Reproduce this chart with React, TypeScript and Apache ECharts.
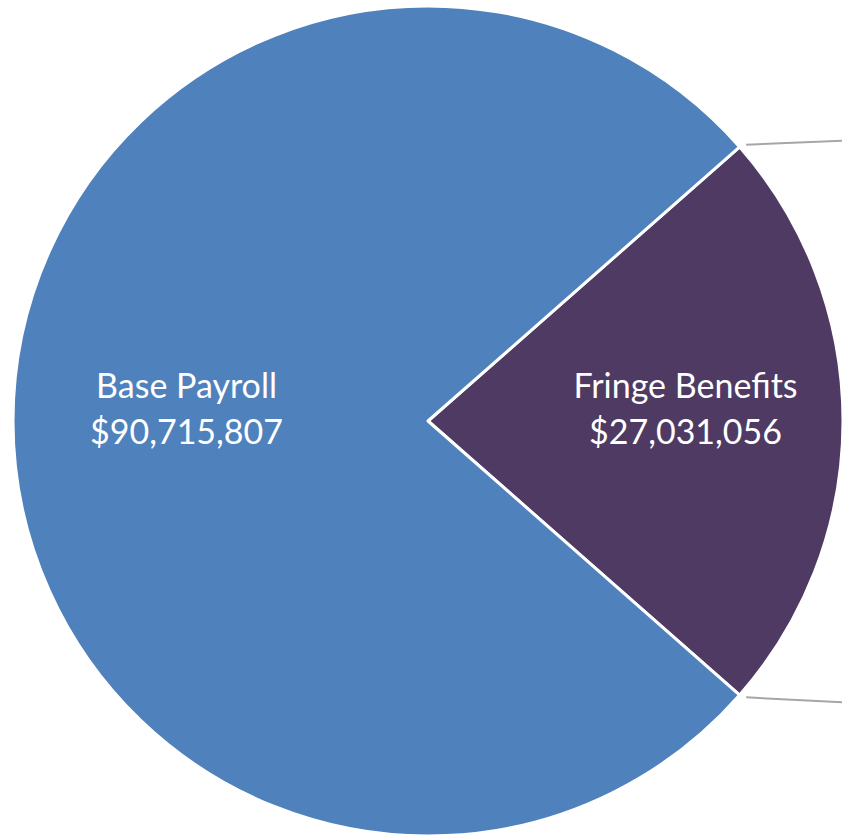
import React, { useEffect, useRef } from "react";
import * as echarts from "echarts";

const categories = ["Fringe Benefits", "Base Payroll"];
const values = [27031056, 90715807];
const colors = ["#4E3A62", "#4F81BD"];

const W = 842;
const H = 840;
const CX = 428;
const CY = 421;
const R = 415;

function fmt(n: number): string {
  return "$" + n.toLocaleString("en-US");
}

export default function App() {
  const ref = useRef<HTMLDivElement>(null);
  useEffect(() => {
    if (!ref.current) return;
    const chart = echarts.init(ref.current, null, { renderer: "svg" });
    const total = values.reduce((a, b) => a + b, 0);
    const half = (values[0] / total) * 360 / 2;
    const rad = (half * Math.PI) / 180;
    const cornerX = CX + (R + 2) * Math.cos(rad);
    const upY = CY - (R + 2) * Math.sin(rad);
    const dnY = CY + (R + 2) * Math.sin(rad);
    const lineStyle = { stroke: "#A6A6A6", lineWidth: 2 };
    chart.setOption({
      animation: false,
      backgroundColor: "#ffffff",
      series: [
        {
          type: "pie",
          center: [CX, CY],
          radius: [0, R],
          startAngle: half,
          clockwise: true,
          avoidLabelOverlap: false,
          itemStyle: { borderColor: "#ffffff", borderWidth: 3 },
          label: {
            show: true,
            position: "inside",
            color: "#ffffff",
            fontFamily: "Lato, 'Open Sans', sans-serif",
            fontSize: 34,
            lineHeight: 46,
            formatter: (p: any) => p.name + "\n" + fmt(p.value),
          },
          labelLine: { show: false },
          emphasis: { disabled: true },
          data: categories.map((c, i) => ({
            name: c,
            value: values[i],
            itemStyle: { color: colors[i] },
            label: { offset: i === 0 ? [47, -14] : [-31, -14] },
          })),
        },
      ],
      graphic: [
        {
          type: "line",
          shape: { x1: cornerX + 5, y1: upY - 1, x2: W, y2: upY - 5 },
          style: lineStyle,
        },
        {
          type: "line",
          shape: { x1: cornerX + 5, y1: dnY + 1, x2: W, y2: dnY + 6 },
          style: lineStyle,
        },
      ],
    });
    return () => chart.dispose();
  }, []);
  return (
    <div
      ref={ref}
      style={{ position: "fixed", left: 0, top: 0, width: W, height: H }}
    />
  );
}
